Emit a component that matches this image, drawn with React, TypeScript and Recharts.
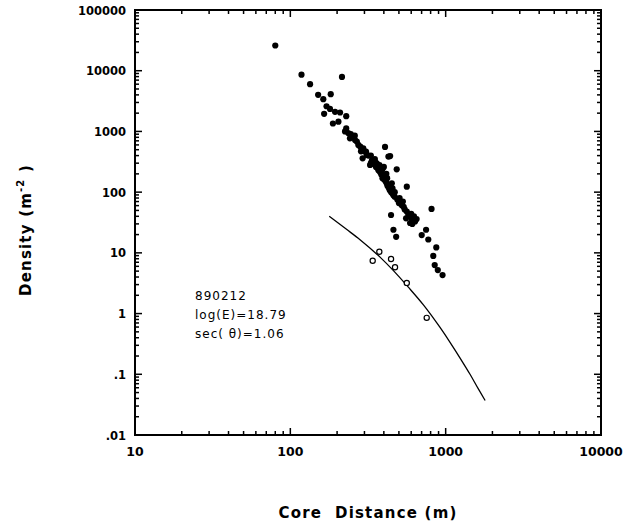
import React from "react";
import { ScatterChart, Scatter, XAxis, YAxis, ReferenceArea } from "recharts";

// Filled symbols (measured densities)
const filledDistance = [
  80, 118, 215, 134, 151, 163, 182, 171, 180, 194, 209, 229, 165, 188, 204, 229, 236, 242, 261, 274,
  295, 307, 292, 310, 407, 428, 484, 326, 351, 369, 389, 407, 439, 360, 398, 417, 437, 461, 562, 514,
  537, 562, 605, 635, 590, 556, 445, 461, 480, 811, 748, 701, 773, 870, 832, 850, 890, 955,
  245, 252, 268, 282, 300, 318, 335, 345, 356, 365, 378, 385, 392, 403, 412, 422, 430, 446, 455, 470,
  488, 500, 522, 545, 575, 610, 625, 650, 600, 392, 420, 440, 455, 470, 505, 530, 350, 330, 375, 400,
  285, 260, 225, 330, 610, 450, 415,
];
const filledDensity = [
  26000, 8600, 7900, 6000, 4000, 3400, 4100, 2600, 2350, 2100, 2050, 1780, 1950, 1350, 1450, 1120, 940, 770, 720, 600,
  525, 465, 360, 410, 555, 385, 238, 280, 318, 229, 204, 178, 393, 298, 180, 140, 107, 89, 123, 69,
  57, 48, 37, 33, 31, 37, 42, 24, 18.4, 53, 24, 19.6, 16.6, 12.3, 8.9, 6.3, 5.2, 4.3,
  900, 820, 680, 560, 470, 400, 330, 290, 260, 250, 215, 195, 170, 160, 150, 128, 118, 100, 95, 84,
  76, 66, 61, 52, 42, 35, 40, 36, 44, 240, 170, 130, 115, 100, 80, 70, 350, 300, 280, 260,
  470, 850, 1000, 400, 30, 140, 200,
];

// Open symbols
const openDistance = [339, 374, 445, 472, 562, 755];
const openDensity = [7.4, 10.4, 7.9, 5.8, 3.2, 0.85];

// Fitted curve
const curveDistance = [178, 230, 281, 378, 461, 575, 719, 920, 1067, 1250, 1435, 1620, 1795];
const curveDensity = [40, 24.4, 16.5, 8.5, 5.1, 2.72, 1.39, 0.59, 0.336, 0.178, 0.1, 0.058, 0.037];

// Axis ticks
const xDecades = [10, 100, 1000, 10000];
const xTickLabels = ["10", "100", "1000", "10000"];
const yDecades = [0.01, 0.1, 1, 10, 100, 1000, 10000, 100000];
const yTickLabels = [".01", ".1", "1", "10", "100", "1000", "10000", "100000"];

const annotationLines = ["890212", "log(E)=18.79", "sec( \u03b8)=1.06"];

const minorTicks = (decades: number[]) => {
  const out: number[] = [];
  decades.forEach((d, i) => {
    out.push(d);
    if (i < decades.length - 1) {
      for (let k = 2; k <= 9; k++) out.push(+(d * k).toPrecision(6));
    }
  });
  return out;
};

const xTicks = minorTicks(xDecades);
const yTicks = minorTicks(yDecades);

const filledData = filledDistance.map((x, i) => ({ x, y: filledDensity[i] }));
const openData = openDistance.map((x, i) => ({ x, y: openDensity[i] }));
const curveData = curveDistance.map((x, i) => ({ x, y: curveDensity[i] }));

const isMajor = (v: number, decades: number[]) => decades.some((d) => Math.abs(d - v) / d < 1e-6);

const FONT = "'DejaVu Sans', sans-serif";
const TICK_W = 1.5;
const MAJ = 7;
const MIN = 4;

const BottomTick = (p: any) => {
  const v = p.payload.value;
  const idx = xDecades.findIndex((d) => Math.abs(d - v) / d < 1e-6);
  const major = idx >= 0;
  return (
    <g>
      <line x1={p.x} x2={p.x} y1={p.y} y2={p.y - (major ? MAJ : MIN)} stroke="#000" strokeWidth={TICK_W} />
      {major && (
        <text x={p.x} y={p.y + 21} textAnchor="middle" fontFamily={FONT} fontWeight="bold" fontSize={12.5} fill="#000">
          {xTickLabels[idx]}
        </text>
      )}
    </g>
  );
};

const TopTick = (p: any) => {
  const major = isMajor(p.payload.value, xDecades);
  return <line x1={p.x} x2={p.x} y1={p.y} y2={p.y + (major ? MAJ : MIN)} stroke="#000" strokeWidth={TICK_W} />;
};

const LeftTick = (p: any) => {
  const v = p.payload.value;
  const idx = yDecades.findIndex((d) => Math.abs(d - v) / d < 1e-6);
  const major = idx >= 0;
  return (
    <g>
      <line x1={p.x} x2={p.x + (major ? MAJ : MIN)} y1={p.y} y2={p.y} stroke="#000" strokeWidth={TICK_W} />
      {major && (
        <text x={p.x - 9} y={p.y + 4.5} textAnchor="end" fontFamily={FONT} fontWeight="bold" fontSize={11.5} fill="#000">
          {yTickLabels[idx]}
        </text>
      )}
    </g>
  );
};

const RightTick = (p: any) => {
  const major = isMajor(p.payload.value, yDecades);
  return <line x1={p.x} x2={p.x - (major ? MAJ : MIN)} y1={p.y} y2={p.y} stroke="#000" strokeWidth={TICK_W} />;
};

const FilledDot = (p: any) => <circle cx={p.cx} cy={p.cy} r={3.1} fill="#000" />;
const OpenDot = (p: any) => <circle cx={p.cx} cy={p.cy} r={2.6} fill="#fff" stroke="#000" strokeWidth={1.2} />;
const NoDot = () => <g />;

export default function App() {
  return (
    <div style={{ position: "absolute", left: 0, top: 0, width: 625, height: 524, background: "#fff" }}>
      <ScatterChart width={625} height={524} margin={{ top: 9, right: 23, bottom: 0, left: 0 }}>
        <XAxis
          xAxisId="b"
          dataKey="x"
          type="number"
          scale="log"
          domain={[10, 10000]}
          allowDataOverflow
          ticks={xTicks}
          interval={0}
          tickSize={0}
          tickMargin={0}
          tickLine={false}
          tick={BottomTick}
          axisLine={{ stroke: "#000", strokeWidth: 2 }}
          height={89}
          orientation="bottom"
        />
        <XAxis
          xAxisId="t"
          dataKey="x"
          type="number"
          scale="log"
          domain={[10, 10000]}
          allowDataOverflow
          ticks={xTicks}
          interval={0}
          tickSize={0}
          tickMargin={0}
          tickLine={false}
          tick={TopTick}
          axisLine={{ stroke: "#000", strokeWidth: 2 }}
          height={1}
          orientation="top"
        />
        <YAxis
          yAxisId="l"
          dataKey="y"
          type="number"
          scale="log"
          domain={[0.01, 100000]}
          allowDataOverflow
          ticks={yTicks}
          interval={0}
          tickSize={0}
          tickMargin={0}
          tickLine={false}
          tick={LeftTick}
          axisLine={{ stroke: "#000", strokeWidth: 2 }}
          width={135}
          orientation="left"
        />
        <YAxis
          yAxisId="r"
          dataKey="y"
          type="number"
          scale="log"
          domain={[0.01, 100000]}
          allowDataOverflow
          ticks={yTicks}
          interval={0}
          tickSize={0}
          tickMargin={0}
          tickLine={false}
          tick={RightTick}
          axisLine={{ stroke: "#000", strokeWidth: 2 }}
          width={1}
          orientation="right"
        />
        <ReferenceArea
          xAxisId="b"
          yAxisId="l"
          x1={10}
          x2={10000}
          y1={0.01}
          y2={100000}
          fill="none"
          fillOpacity={0}
          stroke="#000"
          strokeWidth={2}
          strokeOpacity={1}
          ifOverflow="visible"
        />
        <Scatter
          xAxisId="b"
          yAxisId="l"
          data={curveData}
          line={{ stroke: "#000", strokeWidth: 1.3 }}
          lineJointType="monotoneX"
          lineType="joint"
          shape={NoDot}
          isAnimationActive={false}
        />
        <Scatter xAxisId="b" yAxisId="l" data={filledData} shape={FilledDot} isAnimationActive={false} />
        <Scatter xAxisId="b" yAxisId="l" data={openData} shape={OpenDot} isAnimationActive={false} />
        <text fontFamily={FONT} fontSize={12} letterSpacing={1} fill="#000">
          {annotationLines.map((t, i) => (
            <tspan key={i} x={195} y={300 + i * 19}>
              {t}
            </tspan>
          ))}
        </text>
        <text
          x={368}
          y={518}
          textAnchor="middle"
          fontFamily={FONT}
          fontWeight="bold"
          fontSize={15}
          letterSpacing={1.2}
          fill="#000"
          style={{ whiteSpace: "pre" }}
        >
          {"Core  Distance (m)"}
        </text>
        <text
          x={31}
          y={230}
          transform="rotate(-90, 31, 230)"
          textAnchor="middle"
          fontFamily={FONT}
          fontWeight="bold"
          fontSize={15}
          letterSpacing={1.2}
          fill="#000"
        >
          <tspan>Density (m</tspan>
          <tspan fontSize={10} dy={-7}>
            -2
          </tspan>
          <tspan dy={7}> )</tspan>
        </text>
      </ScatterChart>
    </div>
  );
}
